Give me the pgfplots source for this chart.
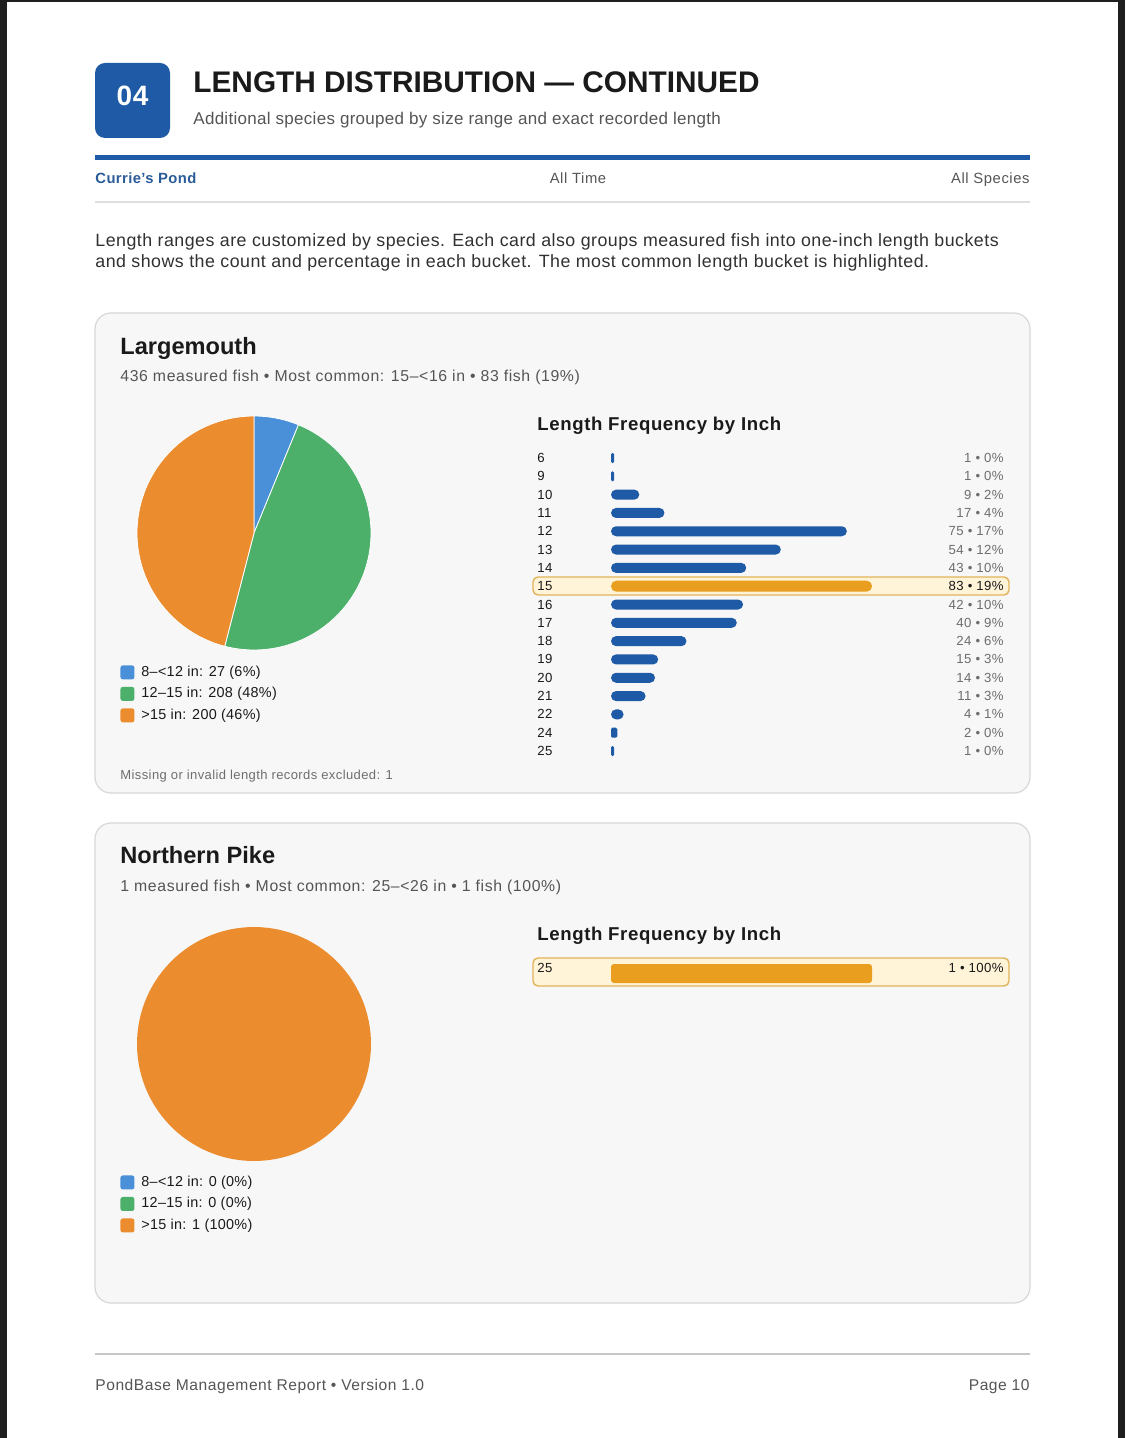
\documentclass[border=0pt]{standalone}
\usepackage{pgfplots}
\pgfplotsset{compat=1.18}
\usepackage{fontspec}
\setmainfont{Liberation Sans}
\definecolor{hdrblue}{HTML}{1F5AA6}
\definecolor{barblue}{HTML}{1F5AA6}
\definecolor{barorange}{HTML}{E99E1F}
\definecolor{hlfill}{HTML}{FFF4D8}
\definecolor{hldraw}{HTML}{E2B45A}
\definecolor{pieblue}{HTML}{4A90D9}
\definecolor{piegreen}{HTML}{4CAF6A}
\definecolor{pieorange}{HTML}{EB8C2F}
\definecolor{cardfill}{HTML}{F7F7F7}
\definecolor{cardline}{HTML}{D8D8D8}
\definecolor{txtdark}{HTML}{1A1A1A}
\definecolor{txtmid}{HTML}{555555}
\definecolor{txtlight}{HTML}{6E6E6E}
\definecolor{pondblue}{HTML}{2A5C9A}
\newcommand\fs[1]{\fontsize{#1}{#1}\selectfont}
\newcommand\ls[1]{\addfontfeature{LetterSpace=#1}}
\pgfplotsset{
  pie/.style={scale only axis, width=117pt, height=117pt,
    xmin=-1, xmax=1, ymin=-1, ymax=1, hide axis, clip=false,
    legend image code/.code={\fill[##1, draw=none, rounded corners=1.2pt] (0pt,-3.5pt) rectangle (7pt,3.5pt);},
    legend style={draw=none, fill=none, inner sep=0pt, anchor=north west,
      font=\fs{7.2}\ls{2}, text=txtdark, row sep=3.75pt, column sep=3.5pt,
      nodes={inner sep=0pt, text height=5.2pt, text depth=1.5pt}},
    legend cell align=left},
  freq/.style={scale only axis, width=130.5pt, clip=false,
    axis x line=none, axis y line=left, y axis line style={draw=none},
    major tick length=0pt, y dir=reverse,
    yticklabel style={anchor=west, xshift=-37pt, font=\fs{6.6}\ls{3}, text=txtdark, inner sep=0pt}},
}
\begin{document}
\begin{tikzpicture}
\begin{scope}[x=0.5pt,y=-0.5pt]
% page
\fill[black!88] (0,0) rectangle (1125,1438);
\fill[white] (7,2) rectangle (1118,1438);
% header
\fill[hdrblue, rounded corners=5pt] (95,63) rectangle (170,138);
\node[text=white, font=\fs{14}\bfseries\ls{2}, inner sep=0pt] at (132.5,96) {04};
\node[anchor=mid west, inner sep=0pt, font=\fs{14.9}\bfseries, text=txtdark] at (193,87) {LENGTH DISTRIBUTION — CONTINUED};
\node[anchor=mid west, inner sep=0pt, font=\fs{8.5}\ls{1.7}, text=txtmid] at (193,119) {Additional species grouped by size range and exact recorded length};
\fill[hdrblue] (95,155) rectangle (1030,160);
\node[anchor=mid west, inner sep=0pt, font=\fs{7.4}\bfseries\ls{2.8}, text=pondblue] at (95,178) {Currie's Pond};
\node[anchor=mid, inner sep=0pt, font=\fs{7.4}\ls{4}, text=txtmid] at (578,178) {All Time};
\node[anchor=mid east, inner sep=0pt, font=\fs{7.4}\ls{4}, text=txtmid] at (1030,178) {All Species};
\fill[black!13] (95,201) rectangle (1030,203);
\node[anchor=mid west, inner sep=0pt, font=\fs{8.9}\ls{2.7}, text=txtdark!90] at (95,241) {Length ranges are customized by species. Each card also groups measured fish into one-inch length buckets};
\node[anchor=mid west, inner sep=0pt, font=\fs{8.9}\ls{2.7}, text=txtdark!90] at (95,262) {and shows the count and percentage in each bucket. The most common length bucket is highlighted.};
% cards
\filldraw[fill=cardfill, draw=cardline, line width=0.6pt, rounded corners=8pt] (95,313) rectangle (1030,793);
\filldraw[fill=cardfill, draw=cardline, line width=0.6pt, rounded corners=8pt] (95,823) rectangle (1030,1303);
% card 1 text
\node[anchor=mid west, inner sep=0pt, font=\fs{11.8}\bfseries, text=txtdark] at (120,349) {Largemouth};
\node[anchor=mid west, inner sep=0pt, font=\fs{7.9}\ls{3.9}, text=txtmid] at (120,376) {436 measured fish • Most common: 15–<16 in • 83 fish (19\%)};
\node[anchor=mid west, inner sep=0pt, font=\fs{9.3}\bfseries\ls{3.3}, text=txtdark] at (537,425) {Length Frequency by Inch};
\node[anchor=mid west, inner sep=0pt, font=\fs{6.5}\ls{3.1}, text=txtlight] at (120,774) {Missing or invalid length records excluded: 1};
\filldraw[fill=hlfill, draw=hldraw, line width=0.7pt, rounded corners=2.5pt] (533,577) rectangle (1009,595);
% card 2 text
\node[anchor=mid west, inner sep=0pt, font=\fs{11.8}\bfseries, text=txtdark] at (120,858) {Northern Pike};
\node[anchor=mid west, inner sep=0pt, font=\fs{7.9}\ls{3.9}, text=txtmid] at (120,886) {1 measured fish • Most common: 25–<26 in • 1 fish (100\%)};
\node[anchor=mid west, inner sep=0pt, font=\fs{9.3}\bfseries\ls{3.3}, text=txtdark] at (537,935) {Length Frequency by Inch};
\filldraw[fill=hlfill, draw=hldraw, line width=0.7pt, rounded corners=2.5pt] (533,958) rectangle (1009,986);
% footer
\fill[black!22] (95,1353) rectangle (1030,1355);
\node[anchor=mid west, inner sep=0pt, font=\fs{7.8}\ls{3.4}, text=txtmid] at (95,1385) {PondBase Management Report • Version 1.0};
\node[anchor=mid east, inner sep=0pt, font=\fs{7.8}\ls{3.4}, text=txtmid] at (1030,1385) {Page 10};
\end{scope}

% ---------- Largemouth pie (27, 208, 200 of 435) ----------
\begin{axis}[pie, at={(127pt,-266.5pt)}, anchor=center,
  legend style={at={(axis cs:-1.145,-1.128)}}]
\addplot[fill=pieblue, draw=white, line width=0.4pt, domain=67.66:90, samples=20] ({cos(x)},{sin(x)}) -- (axis cs:0,0) -- cycle;
\addlegendentry{8–<12 in: 27 (6\%)}
\addplot[fill=piegreen, draw=white, line width=0.4pt, domain=-104.48:67.66, samples=80] ({cos(x)},{sin(x)}) -- (axis cs:0,0) -- cycle;
\addlegendentry{12–15 in: 208 (48\%)}
\addplot[fill=pieorange, draw=white, line width=0.4pt, domain=-270:-104.48, samples=80] ({cos(x)},{sin(x)}) -- (axis cs:0,0) -- cycle;
\addlegendentry{>15 in: 200 (46\%)}
\end{axis}

% ---------- Largemouth length frequency ----------
\begin{axis}[freq, at={(305.5pt,-224.42pt)}, anchor=north west,
  height=155.66pt, xmin=0, xmax=83, ymin=-0.5, ymax=16.5,
  ytick={0,...,16},
  yticklabels={6,9,10,11,12,13,14,15,16,17,18,19,20,21,22,24,25}]
\addplot[xbar, bar width=5pt, bar shift=0pt, fill=barblue, draw=none, rounded corners=2.5pt]
  coordinates {(9,2) (17,3) (75,4) (54,5) (43,6) (42,8) (40,9) (24,10) (15,11) (14,12) (11,13) (4,14)};
\addplot[xbar, bar width=5pt, bar shift=0pt, fill=barblue, draw=none, rounded corners=0.7pt]
  coordinates {(1,0) (1,1) (2,15) (1,16)};
\addplot[xbar, bar width=5.5pt, bar shift=0pt, fill=barorange, draw=none, rounded corners=2.7pt]
  coordinates {(83,7)};
\addplot[draw=none, mark=none, nodes near coords, point meta=explicit symbolic,
  nodes near coords style={anchor=east, font=\fs{6.6}\ls{3}, text=txtlight, inner sep=0pt}]
  coordinates {(125,0) [1 • 0\%] (125,1) [1 • 0\%] (125,2) [9 • 2\%] (125,3) [17 • 4\%]
   (125,4) [75 • 17\%] (125,5) [54 • 12\%] (125,6) [43 • 10\%] (125,8) [42 • 10\%]
   (125,9) [40 • 9\%] (125,10) [24 • 6\%] (125,11) [15 • 3\%] (125,12) [14 • 3\%]
   (125,13) [11 • 3\%] (125,14) [4 • 1\%] (125,15) [2 • 0\%] (125,16) [1 • 0\%]};
\addplot[draw=none, mark=none, nodes near coords, point meta=explicit symbolic,
  nodes near coords style={anchor=east, font=\fs{6.6}\ls{3}, text=txtdark, inner sep=0pt}]
  coordinates {(125,7) [83 • 19\%]};
\end{axis}

% ---------- Northern Pike pie (0, 0, 1 of 1) ----------
\begin{axis}[pie, at={(127pt,-522pt)}, anchor=center,
  legend style={at={(axis cs:-1.145,-1.12)}}]
\addlegendimage{fill=pieblue}
\addlegendentry{8–<12 in: 0 (0\%)}
\addlegendimage{fill=piegreen}
\addlegendentry{12–15 in: 0 (0\%)}
\addplot[fill=pieorange, draw=none, domain=-270:90, samples=120] ({cos(x)},{sin(x)}) -- cycle;
\addlegendentry{>15 in: 1 (100\%)}
\end{axis}

% ---------- Northern Pike length frequency ----------
\begin{axis}[freq, at={(305.5pt,-482pt)}, anchor=north west,
  height=9.5pt, xmin=0, xmax=1, ymin=-0.5, ymax=0.5,
  ytick={0}, yticklabels={25},
  yticklabel style={yshift=2.75pt}]
\addplot[xbar, bar width=9.5pt, bar shift=0pt, fill=barorange, draw=none, rounded corners=1.5pt]
  coordinates {(1,0)};
\addplot[draw=none, mark=none, nodes near coords, point meta=explicit symbolic,
  nodes near coords style={anchor=east, font=\fs{6.6}\ls{3}, text=txtdark, inner sep=0pt, yshift=2.75pt}]
  coordinates {(1.506,0) [1 • 100\%]};
\end{axis}
\end{tikzpicture}
\end{document}
